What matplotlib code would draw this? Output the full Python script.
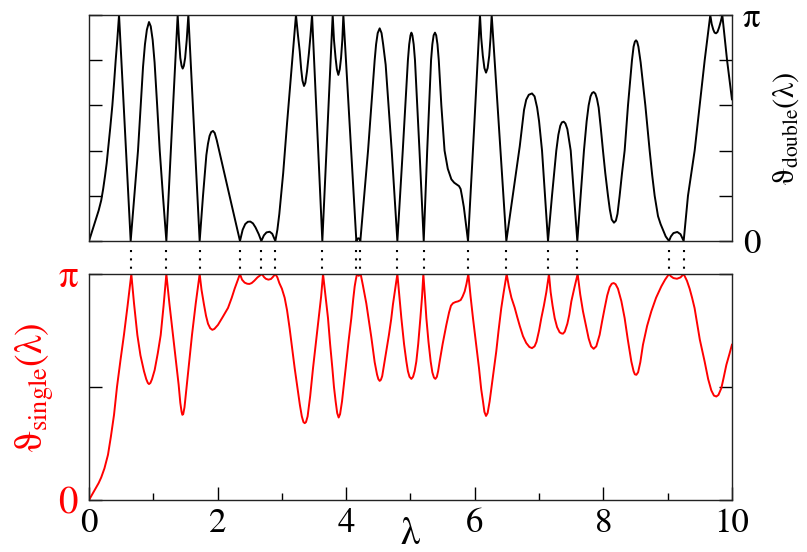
import numpy as np
import matplotlib
matplotlib.use("Agg")
import matplotlib.pyplot as plt

plt.rcParams['font.family'] = 'STIXGeneral'
plt.rcParams['mathtext.fontset'] = 'stix'

# theta values are read as fractions of pi
double_pts = [
    (0, 0), (0.05, 0.045), (0.10, 0.09), (0.15, 0.135), (0.19, 0.18), (0.22, 0.23), (0.25, 0.29),
    (0.275, 0.345), (0.295, 0.40), (0.33, 0.50), (0.363, 0.60), (0.39, 0.70), (0.415, 0.80),
    (0.44, 0.89), (0.467, 1.0), (0.648, 0), (0.70, 0.18), (0.762, 0.40), (0.80, 0.58), (0.84, 0.77),
    (0.87, 0.87), (0.90, 0.935), (0.933, 0.969), (0.96, 0.95), (0.99, 0.89), (1.02, 0.79),
    (1.06, 0.60), (1.10, 0.40), (1.15, 0.20), (1.203, 0), (1.29, 0.50), (1.379, 1.0), (1.40, 0.89),
    (1.42, 0.81), (1.44, 0.775), (1.457, 0.763), (1.475, 0.775), (1.495, 0.81), (1.52, 0.89),
    (1.545, 1.0), (1.721, 0), (1.773, 0.20), (1.825, 0.38), (1.85, 0.43), (1.875, 0.465),
    (1.90, 0.482), (1.928, 0.487), (1.955, 0.478), (1.986, 0.447), (2.08, 0.33), (2.21, 0.17),
    (2.348, 0), (2.39, 0.05), (2.43, 0.075), (2.47, 0.085), (2.509, 0.086), (2.55, 0.078),
    (2.59, 0.06), (2.64, 0.03), (2.68, 0), (2.72, 0.025), (2.76, 0.038), (2.81, 0.041),
    (2.85, 0.032), (2.898, 0), (2.93, 0.05), (2.96, 0.12), (3.02, 0.30), (3.08, 0.52),
    (3.15, 0.76), (3.219, 1.0), (3.25, 0.91), (3.277, 0.84), (3.30, 0.76), (3.32, 0.71),
    (3.344, 0.686), (3.365, 0.70), (3.39, 0.75), (3.42, 0.83), (3.445, 0.91), (3.469, 1.0),
    (3.629, 0), (3.79, 1.0), (3.81, 0.89), (3.835, 0.81), (3.855, 0.76), (3.878, 0.735),
    (3.90, 0.76), (3.92, 0.81), (3.94, 0.89), (3.956, 1.0), (4.158, 0), (4.175, 0.01),
    (4.19, 0.012), (4.205, 0.01), (4.22, 0), (4.34, 0.40), (4.443, 0.80), (4.465, 0.87),
    (4.49, 0.92), (4.521, 0.941), (4.55, 0.92), (4.575, 0.87), (4.614, 0.78), (4.708, 0.40),
    (4.796, 0), (4.88, 0.40), (4.96, 0.80), (4.98, 0.87), (5.00, 0.91), (5.014, 0.922),
    (5.03, 0.91), (5.05, 0.87), (5.07, 0.80), (5.14, 0.40), (5.206, 0), (5.26, 0.40),
    (5.32, 0.80), (5.34, 0.87), (5.36, 0.91), (5.381, 0.922), (5.40, 0.91), (5.42, 0.87),
    (5.44, 0.80), (5.48, 0.60), (5.53, 0.40), (5.58, 0.32), (5.636, 0.273), (5.68, 0.258),
    (5.72, 0.25), (5.755, 0.243), (5.78, 0.23), (5.80, 0.20), (5.83, 0.15), (5.86, 0.08),
    (5.895, 0), (5.99, 0.50), (6.081, 1.0), (6.10, 0.90), (6.125, 0.82), (6.15, 0.765),
    (6.175, 0.745), (6.20, 0.765), (6.225, 0.82), (6.245, 0.90), (6.263, 1.0), (6.491, 0),
    (6.59, 0.20), (6.70, 0.42), (6.766, 0.58), (6.80, 0.625), (6.84, 0.647), (6.89, 0.653),
    (6.93, 0.64), (6.97, 0.59), (7.00, 0.53), (7.046, 0.40), (7.09, 0.21), (7.139, 0),
    (7.201, 0.20), (7.268, 0.40), (7.30, 0.47), (7.33, 0.51), (7.355, 0.525), (7.383, 0.528),
    (7.41, 0.52), (7.44, 0.495), (7.465, 0.45), (7.492, 0.40), (7.543, 0.20), (7.595, 0),
    (7.647, 0.20), (7.698, 0.40), (7.74, 0.53), (7.771, 0.60), (7.80, 0.64), (7.825, 0.655),
    (7.849, 0.659), (7.875, 0.652), (7.90, 0.63), (7.927, 0.59), (7.96, 0.50), (7.994, 0.40),
    (8.03, 0.30), (8.072, 0.20), (8.10, 0.14), (8.13, 0.095), (8.165, 0.081), (8.195, 0.09),
    (8.22, 0.12), (8.253, 0.20), (8.29, 0.30), (8.331, 0.40), (8.383, 0.60), (8.445, 0.80),
    (8.47, 0.86), (8.49, 0.882), (8.508, 0.888), (8.525, 0.882), (8.545, 0.86), (8.58, 0.79),
    (8.653, 0.60), (8.72, 0.40), (8.76, 0.29), (8.798, 0.20), (8.85, 0.11), (8.89, 0.075),
    (8.927, 0.05), (8.97, 0.02), (9.021, 0), (9.05, 0.02), (9.09, 0.035), (9.15, 0.04),
    (9.20, 0.03), (9.249, 0), (9.316, 0.20), (9.42, 0.40), (9.498, 0.60), (9.576, 0.80),
    (9.62, 0.90), (9.663, 1.0), (9.685, 0.96), (9.71, 0.935), (9.73, 0.922), (9.752, 0.919),
    (9.775, 0.925), (9.80, 0.945), (9.825, 0.97), (9.85, 1.0), (9.924, 0.80), (10.0, 0.627),
]

single_pts = [
    (0, 0), (0.05, 0.025), (0.10, 0.05), (0.15, 0.075), (0.19, 0.10), (0.24, 0.14), (0.295, 0.20),
    (0.34, 0.28), (0.389, 0.377), (0.435, 0.50), (0.49, 0.62), (0.544, 0.732), (0.60, 0.86),
    (0.658, 1.0), (0.70, 0.87), (0.752, 0.73), (0.80, 0.64), (0.855, 0.57), (0.89, 0.535),
    (0.915, 0.518), (0.933, 0.513), (0.955, 0.518), (0.98, 0.535), (1.021, 0.575), (1.07, 0.65),
    (1.115, 0.73), (1.16, 0.86), (1.203, 1.0), (1.25, 0.87), (1.306, 0.731), (1.35, 0.62),
    (1.394, 0.51), (1.42, 0.43), (1.44, 0.39), (1.452, 0.377), (1.465, 0.38), (1.485, 0.41),
    (1.514, 0.49), (1.56, 0.62), (1.602, 0.731), (1.66, 0.87), (1.721, 1.0), (1.75, 0.93),
    (1.788, 0.865), (1.82, 0.815), (1.851, 0.78), (1.885, 0.76), (1.918, 0.753), (1.95, 0.757),
    (2.006, 0.775), (2.08, 0.81), (2.162, 0.85), (2.22, 0.895), (2.265, 0.935), (2.31, 0.97),
    (2.348, 1.0), (2.38, 0.975), (2.42, 0.962), (2.46, 0.957), (2.494, 0.956), (2.53, 0.96),
    (2.57, 0.97), (2.62, 0.985), (2.69, 1.0), (2.72, 0.987), (2.75, 0.979), (2.79, 0.975),
    (2.83, 0.978), (2.86, 0.987), (2.898, 1.0), (2.93, 0.985), (2.96, 0.96), (3.00, 0.935),
    (3.043, 0.895), (3.08, 0.84), (3.12, 0.76), (3.16, 0.67), (3.199, 0.583), (3.24, 0.50),
    (3.28, 0.42), (3.31, 0.37), (3.335, 0.345), (3.355, 0.34), (3.375, 0.345), (3.40, 0.37),
    (3.44, 0.46), (3.484, 0.583), (3.53, 0.70), (3.572, 0.805), (3.61, 0.90), (3.640, 1.0),
    (3.68, 0.90), (3.717, 0.805), (3.75, 0.69), (3.785, 0.583), (3.81, 0.50), (3.836, 0.436),
    (3.86, 0.385), (3.883, 0.365), (3.905, 0.38), (3.935, 0.436), (3.96, 0.50), (3.992, 0.583),
    (4.04, 0.71), (4.080, 0.805), (4.11, 0.89), (4.132, 0.945), (4.15, 0.975), (4.168, 1.0),
    (4.196, 0.992), (4.225, 1.0), (4.26, 0.95), (4.313, 0.87), (4.35, 0.80), (4.391, 0.72),
    (4.443, 0.61), (4.48, 0.555), (4.50, 0.535), (4.521, 0.527), (4.54, 0.532), (4.56, 0.548),
    (4.598, 0.613), (4.63, 0.67), (4.665, 0.731), (4.70, 0.80), (4.727, 0.865), (4.76, 0.93),
    (4.796, 1.0), (4.83, 0.89), (4.858, 0.805), (4.90, 0.69), (4.936, 0.613), (4.96, 0.57),
    (4.985, 0.545), (5.014, 0.536), (5.04, 0.545), (5.065, 0.57), (5.091, 0.613), (5.12, 0.69),
    (5.154, 0.805), (5.18, 0.90), (5.200, 1.0), (5.225, 0.90), (5.247, 0.805), (5.28, 0.70),
    (5.314, 0.613), (5.34, 0.565), (5.365, 0.542), (5.387, 0.536), (5.41, 0.545), (5.43, 0.57),
    (5.454, 0.613), (5.50, 0.69), (5.558, 0.775), (5.60, 0.83), (5.63, 0.86), (5.662, 0.871),
    (5.70, 0.876), (5.74, 0.879), (5.781, 0.885), (5.81, 0.90), (5.843, 0.923), (5.87, 0.955),
    (5.900, 1.0), (5.935, 0.90), (5.972, 0.805), (6.02, 0.69), (6.066, 0.583), (6.10, 0.49),
    (6.128, 0.436), (6.15, 0.39), (6.175, 0.372), (6.20, 0.385), (6.231, 0.436), (6.28, 0.54),
    (6.334, 0.657), (6.37, 0.75), (6.412, 0.849), (6.45, 0.92), (6.496, 1.0), (6.53, 0.945),
    (6.57, 0.895), (6.62, 0.852), (6.66, 0.81), (6.70, 0.77), (6.75, 0.725), (6.80, 0.695),
    (6.85, 0.677), (6.890, 0.672), (6.93, 0.68), (6.96, 0.70), (7.00, 0.75), (7.035, 0.805),
    (7.075, 0.86), (7.113, 0.92), (7.154, 1.0), (7.18, 0.92), (7.21, 0.86), (7.243, 0.805),
    (7.28, 0.765), (7.32, 0.742), (7.35, 0.737), (7.372, 0.736), (7.40, 0.745), (7.44, 0.78),
    (7.47, 0.82), (7.502, 0.879), (7.55, 0.94), (7.600, 1.0), (7.64, 0.91), (7.683, 0.835),
    (7.73, 0.77), (7.771, 0.715), (7.81, 0.68), (7.849, 0.669), (7.89, 0.68), (7.942, 0.731),
    (7.98, 0.79), (8.020, 0.849), (8.06, 0.905), (8.098, 0.942), (8.13, 0.957), (8.160, 0.960),
    (8.19, 0.955), (8.227, 0.935), (8.28, 0.88), (8.331, 0.805), (8.38, 0.71), (8.435, 0.613),
    (8.47, 0.57), (8.49, 0.556), (8.513, 0.554), (8.54, 0.565), (8.575, 0.61), (8.616, 0.687),
    (8.68, 0.77), (8.746, 0.835), (8.82, 0.895), (8.901, 0.945), (8.96, 0.975), (9.021, 1.0),
    (9.05, 0.99), (9.09, 0.982), (9.145, 0.979), (9.20, 0.985), (9.249, 1.0), (9.30, 0.97),
    (9.342, 0.935), (9.38, 0.895), (9.419, 0.849), (9.46, 0.78), (9.50, 0.71), (9.575, 0.613),
    (9.63, 0.535), (9.679, 0.485), (9.72, 0.462), (9.757, 0.458), (9.79, 0.465), (9.835, 0.495),
    (9.87, 0.54), (9.913, 0.598), (9.96, 0.645), (10.0, 0.687),
]

lam_double = [p[0] for p in double_pts]
th_double = [p[1] for p in double_pts]
lam_single = [p[0] for p in single_pts]
th_single = [p[1] for p in single_pts]

# zeros of the double-layer curve, joined to the single-layer peaks
lam_marks = [0.648, 1.203, 1.721, 2.348, 2.68, 2.898, 3.629, 4.158, 4.22, 4.796, 5.206,
             5.895, 6.491, 7.139, 7.595, 9.021, 9.249]

fig = plt.figure(figsize=(8.07, 5.52), dpi=100)
ax1 = fig.add_axes([0.1103, 0.5634, 0.7967, 0.4094])
ax2 = fig.add_axes([0.1103, 0.0942, 0.7967, 0.4094])

ax1.plot(lam_double, np.array(th_double) * np.pi, color='black', lw=1.4)
ax2.plot(lam_single, np.array(th_single) * np.pi, color='red', lw=1.4)

for ax in (ax1, ax2):
    ax.set_xlim(0, 10)
    ax.set_ylim(0, np.pi)
    for s in ax.spines.values():
        s.set_linewidth(1.0)
        s.set_color('#222222')

# top panel
ax1.set_xticks([])
ax1.set_yticks(np.arange(6) * np.pi / 5)
ax1.set_yticklabels(['0', '', '', '', '', 'π'])
ax1.tick_params(axis='y', direction='in', left=True, right=True, labelleft=False,
                labelright=True, length=9.5, width=1.0, labelsize=25, pad=8)
ax1.yaxis.set_label_position('right')
ax1.set_ylabel(r'ϑ$_{\rm double}$(λ)', fontsize=22, labelpad=8)

trans = ax1.get_xaxis_transform()
for x in lam_marks:
    ax1.plot([x, x], [-9 / 226, -31 / 226], transform=trans, clip_on=False,
             color='black', lw=1.5, linestyle=(0, (1, 3)))

# bottom panel
ax2.set_xticks([0, 2, 4, 6, 8, 10])
ax2.set_xticks([1, 3, 5, 7, 9], minor=True)
ax2.tick_params(axis='x', which='major', direction='in', length=9.5, width=1.0,
                labelsize=25, pad=6, top=False)
ax2.tick_params(axis='x', which='minor', direction='in', length=5, width=1.0, top=False)
ax2.set_yticks([0, np.pi / 2, np.pi])
ax2.set_yticklabels(['0', '', 'π'])
ax2.tick_params(axis='y', direction='in', left=True, right=True, length=9.5, width=1.0,
                labelsize=28, labelcolor='red', pad=8)
ax2.set_ylabel(r'ϑ$_{\rm single}$(λ)', fontsize=27, color='red', labelpad=2)
ax2.set_xlabel('λ', fontsize=28)
ax2.xaxis.set_label_coords(0.5, -0.075)

fig.savefig('out.png', dpi=100)
